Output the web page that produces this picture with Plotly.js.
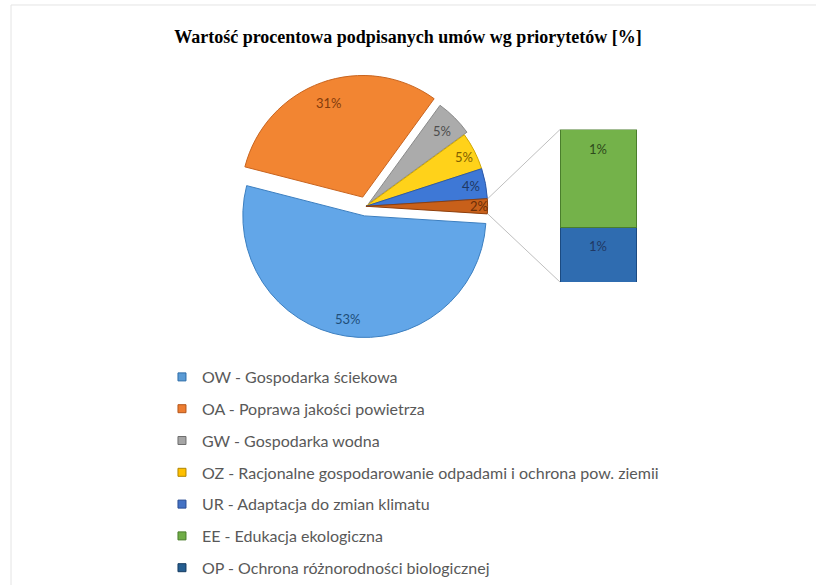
<!DOCTYPE html>
<html><head><meta charset="utf-8">
<script src="https://cdn.plot.ly/plotly-3.0.1.min.js"></script>
<style>html,body{margin:0;padding:0;background:#fff}#chart{width:816px;height:585px}</style>
</head><body><div id="chart"></div>
<script>
// ---- data ----
const titleText = 'Wartość procentowa podpisanych umów wg priorytetów [%]';
const codes = ['OW', 'OA', 'GW', 'OZ', 'UR', 'EE', 'OP'];
const names = ['Gospodarka ściekowa', 'Poprawa jakości powietrza', 'Gospodarka wodna',
  'Racjonalne gospodarowanie odpadami i ochrona pow. ziemii', 'Adaptacja do zmian klimatu',
  'Edukacja ekologiczna', 'Ochrona różnorodności biologicznej'];
const shares = [53, 31, 5, 5, 4, 1.28, 0.72];
const mainCount = 5;          // first five shown in the pie, the rest in the bar
const otherLabel = 'Inne';

// ---- styles ----
const legendColors = ['#5B9BD5', '#ED7D31', '#A5A5A5', '#FFC000', '#4472C4', '#70AD47', '#255E91'];
const legendLines = ['#2E6DA8', '#B4561A', '#6E6E6E', '#B08500', '#2A4E94', '#4A7D2C', '#163C60'];
const pieColors = ['#62A6E8', '#F28532', '#ABABAB', '#FFD21A', '#3E78D6', '#C8601A'];
const pieLines = ['#3C7FC0', '#C9641E', '#8A8A8A', '#D1A800', '#2C58A8', '#8E3F0C'];
const pieLabelColors = ['#1F4E79', '#843C0C', '#4D4D4D', '#7F6000', '#1F3864', '#6B2E08'];
const piePull = [0.08, 0.08, 0.03, 0, 0, 0];
const labelRadius = [0.855, 0.82, 0.85, 0.9, 0.88, 0.93];
const barColors = {EE: '#74B24A', OP: '#2F6CB0'};
const barLines = {EE: '#4A7D2C', OP: '#1B4A80'};
const barLabelColors = {EE: '#2E4A1C', OP: '#1F3864'};

const W = 816, H = 585;
const pieDomX = [0.287, 0.610], pieDomY = [0.4209, 0.8715];
const barDomX = [0.6863, 0.7806], barDomY = [0.5162, 0.7778];
const labelFont = 'Lato, Open Sans, sans-serif';

// ---- derived ----
const pieValues = shares.slice(0, mainCount);
const otherTotal = shares.slice(mainCount).reduce((a, b) => a + b, 0);
pieValues.push(otherTotal);
const pieLabels = codes.slice(0, mainCount).concat([otherLabel]);
const total = pieValues.reduce((a, b) => a + b, 0);
const rotation = 90 + (otherTotal / total) * 180;

const traces = [];
traces.push({
  type: 'pie', values: pieValues, labels: pieLabels, sort: false, direction: 'clockwise',
  rotation: rotation, domain: {x: pieDomX, y: pieDomY}, pull: piePull,
  marker: {colors: pieColors, line: {color: pieLines, width: 1}},
  textinfo: 'none', hoverinfo: 'none', showlegend: false
});

const annotations = [];

// stacked bar for the split-off slice (bottom first)
const barOrder = ['OP', 'EE'];
let stackTop = 0;
barOrder.forEach(c => {
  const i = codes.indexOf(c);
  traces.push({
    type: 'bar', x: [otherLabel], y: [shares[i]], xaxis: 'x', yaxis: 'y',
    marker: {color: barColors[c], line: {color: barLines[c], width: 1}},
    hoverinfo: 'none', showlegend: false
  });
  stackTop += shares[i];
  annotations.push({
    xref: 'x', yref: 'y', x: otherLabel, y: stackTop, xanchor: 'center', yanchor: 'middle', yshift: -19, showarrow: false,
    text: Math.round(shares[i] / total * 100) + '%',
    font: {family: labelFont, size: 13, color: barLabelColors[c]}
  });
});

// legend entries
codes.forEach((c, i) => {
  traces.push({
    type: 'scatter', mode: 'markers', x: [null], y: [null], xaxis: 'x', yaxis: 'y',
    name: c + ' - ' + names[i], legendgroup: c,
    marker: {symbol: 'square', size: 8, color: legendColors[i], line: {color: legendLines[i], width: 1}},
    hoverinfo: 'none'
  });
});

// pie geometry (same as plotly's pie layout) for labels and connectors
const rx = W * (pieDomX[1] - pieDomX[0]) / 2;
const ry = H * (pieDomY[1] - pieDomY[0]) / 2;
const maxPull = Math.max.apply(null, piePull);
const r = Math.min(rx, ry) / (1 + maxPull);
const cx = W * (pieDomX[0] + pieDomX[1]) / 2;
const cy = H * (1 - pieDomY[0]) - ry;
const rad = d => d * Math.PI / 180;

let cum = 0;
let otherStart = 0, otherEnd = 0;
pieValues.forEach((v, i) => {
  const a0 = rotation + cum / total * 360;
  const a1 = rotation + (cum + v) / total * 360;
  const mid = (a0 + a1) / 2;
  const rr = (labelRadius[i] + piePull[i]) * r;
  const px = cx + rr * Math.sin(rad(mid));
  const py = cy - rr * Math.cos(rad(mid));
  annotations.push({
    xref: 'paper', yref: 'paper', x: px / W, y: 1 - py / H, xanchor: 'center', yanchor: 'middle', showarrow: false,
    text: Math.round(v / total * 100) + '%',
    font: {family: labelFont, size: 13, color: pieLabelColors[i]}
  });
  if (i === pieValues.length - 1) { otherStart = a0; otherEnd = a1; }
  cum += v;
});

const barLeft = W * barDomX[0];
const barTop = H * (1 - barDomY[1]);
const barBottom = H * (1 - barDomY[0]);
const p0 = [cx + r * Math.sin(rad(otherStart)), cy - r * Math.cos(rad(otherStart))];
const p1 = [cx + r * Math.sin(rad(otherEnd)), cy - r * Math.cos(rad(otherEnd))];
const shapes = [
  {type: 'line', xref: 'paper', yref: 'paper', x0: p0[0] / W, y0: 1 - p0[1] / H,
   x1: barLeft / W, y1: 1 - barTop / H, line: {color: '#BFBFBF', width: 1}},
  {type: 'line', xref: 'paper', yref: 'paper', x0: p1[0] / W, y0: 1 - p1[1] / H,
   x1: barLeft / W, y1: 1 - barBottom / H, line: {color: '#BFBFBF', width: 1}},
  {type: 'rect', xref: 'paper', yref: 'paper', x0: 11 / W, x1: 1.02, y0: -0.02, y1: 1 - 5 / H,
   line: {color: '#E4E4E4', width: 1}, layer: 'below'}
];

const layout = {
  width: W, height: H, margin: {l: 0, r: 0, t: 0, b: 0},
  paper_bgcolor: '#FFFFFF', plot_bgcolor: 'rgba(0,0,0,0)',
  title: {text: titleText, x: 0.5, xanchor: 'center', xref: 'paper', y: 1 - 37 / H, yanchor: 'middle', yref: 'container',
    font: {family: 'Liberation Serif, Times New Roman, serif', size: 18, color: '#000000', weight: 700}},
  barmode: 'stack', bargap: 0,
  xaxis: {domain: barDomX, range: [-0.5, 0.5], visible: false, fixedrange: true, type: 'category'},
  yaxis: {domain: barDomY, range: [0, otherTotal], visible: false, fixedrange: true},
  legend: {x: 0.1985, y: 0.382, xanchor: 'left', yanchor: 'top', traceorder: 'grouped', tracegroupgap: 8,
    font: {family: labelFont, size: 16, color: '#595959'}, bgcolor: 'rgba(0,0,0,0)', itemclick: false, itemdoubleclick: false},
  annotations: annotations, shapes: shapes, showlegend: true
};

Plotly.newPlot('chart', traces, layout, {displayModeBar: false, staticPlot: true});
</script></body></html>
